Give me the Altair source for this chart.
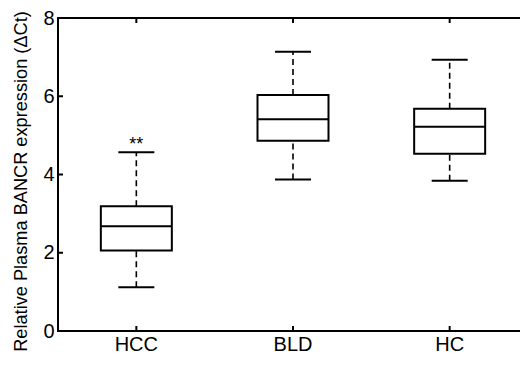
import altair as alt
import pandas as pd

# ---- data ----
categories = ["HCC", "BLD", "HC"]
lower = [1.12, 3.87, 3.84]
q1 = [2.06, 4.86, 4.53]
median = [2.68, 5.41, 5.22]
q3 = [3.19, 6.03, 5.68]
upper = [4.57, 7.14, 6.93]
marks = ["**", "", ""]
y_ticks = [0, 2, 4, 6, 8]
y_title = "Relative Plasma BANCR expression (ΔCt)"

W, H = 470, 313
FONT = "Liberation Sans"

df = pd.DataFrame({
    "group": categories, "lower": lower, "q1": q1, "median": median,
    "q3": q3, "upper": upper, "mark": marks,
})
tick_df = pd.DataFrame({"v": y_ticks})

xscale = alt.Scale(domain=categories, paddingInner=0, paddingOuter=0)
yscale = alt.Scale(domain=[0, 8], nice=False, zero=False)


def X():
    return alt.X("group:N", sort=categories, scale=xscale, title=None,
                 axis=alt.Axis(labelAngle=0))


def Y(field):
    return alt.Y(field, scale=yscale, title=y_title, axis=alt.Axis(values=y_ticks))


base = alt.Chart(df)

whisk_hi = base.mark_rule(color="black", strokeWidth=1.6, strokeDash=[6, 4]).encode(
    x=X(), y=Y("q3:Q"), y2="upper:Q")
whisk_lo = base.mark_rule(color="black", strokeWidth=1.6, strokeDash=[6, 4]).encode(
    x=X(), y=Y("lower:Q"), y2="q1:Q")

boxes = base.mark_bar(fill="white", stroke="black", strokeWidth=2, size=71, opacity=1).encode(
    x=X(), y=Y("q1:Q"), y2="q3:Q")

med = base.mark_tick(color="black", size=71, thickness=2, opacity=1).encode(
    x=X(), y=Y("median:Q"))
cap_hi = base.mark_tick(color="black", size=36, thickness=2, opacity=1).encode(
    x=X(), y=Y("upper:Q"))
cap_lo = base.mark_tick(color="black", size=36, thickness=2, opacity=1).encode(
    x=X(), y=Y("lower:Q"))

stars = base.mark_text(font=FONT, fontSize=18, baseline="alphabetic", dy=-2, color="black").encode(
    x=X(), y=Y("upper:Q"), text="mark:N")

# inward ticks on all four sides
tk = dict(color="black", strokeWidth=2)
yt_left = alt.Chart(tick_df).mark_rule(**tk).encode(
    y=Y("v:Q"), x=alt.value(0), x2=alt.value(5))
yt_right = alt.Chart(tick_df).mark_rule(**tk).encode(
    y=Y("v:Q"), x=alt.value(W - 5), x2=alt.value(W))
xt_bot = base.mark_rule(**tk).encode(x=X(), y=alt.value(H - 5), y2=alt.value(H))
xt_top = base.mark_rule(**tk).encode(x=X(), y=alt.value(0), y2=alt.value(5))

chart = alt.layer(
    whisk_hi, whisk_lo, boxes, med, cap_hi, cap_lo, stars,
    yt_left, yt_right, xt_bot, xt_top,
).properties(
    width=W, height=H,
    autosize=alt.AutoSizeParams(type="none"),
    padding={"left": 50, "top": 10, "right": -8, "bottom": 23},
    background="white",
).configure_view(
    stroke="black", strokeWidth=2
).configure_axis(
    ticks=False, domain=False, grid=False,
    labelFont=FONT, labelFontSize=20, labelColor="black",
    titleFont=FONT, titleFontSize=18.2, titleFontWeight="normal", titleColor="black",
).configure_axisX(
    labelPadding=3,
).configure_axisY(
    labelPadding=4, titlePadding=12, titleY=163,
)

chart.save("out.html", embed_options={"renderer": "svg", "actions": False})
